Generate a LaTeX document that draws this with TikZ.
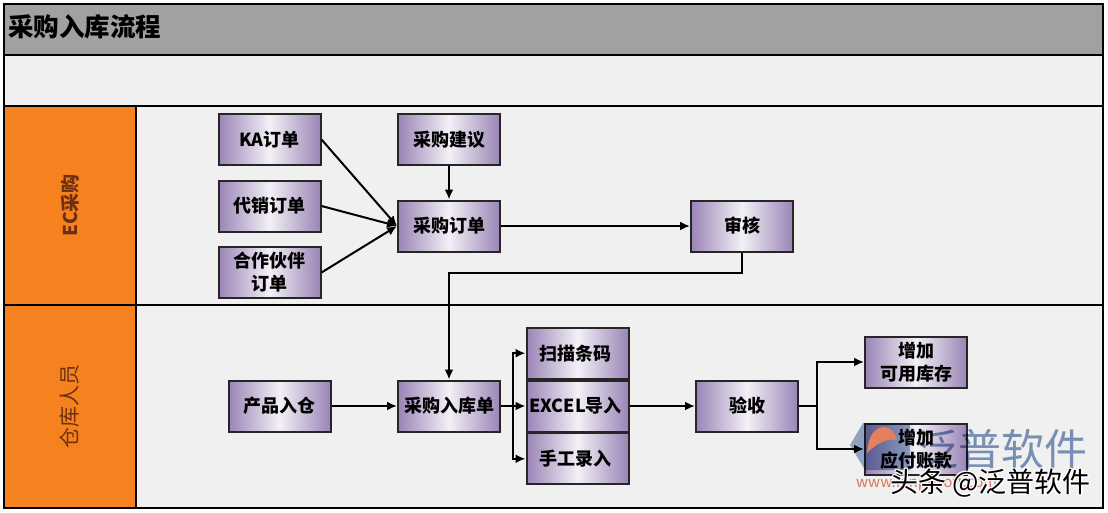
\documentclass[tikz,border=0pt]{standalone}
\usepackage{fontspec}
\setmainfont{Noto Sans CJK SC}
\usetikzlibrary{matrix,arrows.meta}
\definecolor{carril}{HTML}{F0F0F0}
\definecolor{naranja}{HTML}{F5821F}
\definecolor{letraNaranja}{HTML}{6E3010}
\definecolor{lila}{HTML}{9A84B6}
\definecolor{marcaAzul}{HTML}{7F98BE}
\definecolor{marcaRoja}{HTML}{E5805F}
\tikzset{
    banda/.style={draw=black,line width=2pt,anchor=north west,inner sep=0pt},
    cabecera/.style={banda,fill=naranja,line width=1.8pt,minimum width=132pt},
    cuerpo/.style={banda,fill=carril,line width=1.8pt,minimum width=967pt},
    caja/.style={draw=black!85,line width=2pt,left color=lila,right color=lila,middle color=white!88!lila,
        minimum width=102pt,minimum height=51pt,inner sep=0pt,align=center,
        font=\fontsize{18}{23}\selectfont\bfseries},
    flecha/.style={->,line width=2pt},
}
\begin{document}
\begin{tikzpicture}[x=1pt,y=-1pt,>={Latex[length=10pt,width=9pt]}]
            \useasboundingbox (0,0) rectangle (1108,512);
            \fill[white] (0,0) rectangle (1108,512);
            \node[banda,fill=black!37,minimum width=1099pt,minimum height=51pt] (titulo) at (3,3) {};
            \node[banda,fill=carril,minimum width=1099pt,minimum height=51pt] (vacio) at (3,54) {};
            \node[cabecera,minimum height=199pt] (cabEC) at (3,105) {};
            \node[cuerpo,minimum height=199pt] (carrilEC) at (135,105) {};
            \node[cabecera,minimum height=203pt] (cabAlm) at (3,304) {};
            \node[cuerpo,minimum height=203pt] (carrilAlm) at (135,304) {};
            \node[anchor=west,inner sep=0pt,font=\fontsize{25.5}{30}\selectfont\bfseries] (tituloTxt) at (8,27) {采购入库流程};
            \node[rotate=90,text=letraNaranja,font=\fontsize{19}{22}\selectfont\bfseries] (txtEC) at (cabEC.center) {EC采购};
            \node[rotate=90,text=letraNaranja,font=\fontsize{21}{24}\selectfont] (txtAlm) at (cabAlm.center) {仓库人员};

            \node[caja] (ka) at (269.5,139.5) {KA订单};
            \node[caja] (daixiao) at (269.5,206) {代销订单};
            \node[caja] (hezuo) at (269.5,272.5) {合作伙伴\\订单};
            \node[caja] (jianyi) at (449,139.5) {采购建议};
            \node[caja] (dingdan) at (449,226) {采购订单};
            \node[caja] (shenhe) at (742,226) {审核};
            \node[caja] (ruCang) at (279.5,406) {产品入仓};
            \node[caja] (ruku) at (449,406) {采购入库单};
            \matrix[
                matrix of nodes,
                row sep=-0.2pt,
                inner sep=0pt,
                nodes={caja}
            ] (entrada) at (577.5,406)
            {
            扫描条码 \\
            EXCEL导入 \\
            手工录入 \\
            };
            \node[caja] (yanshou) at (747,406) {验收};
            \node[caja] (kucun) at (916,362) {增加\\可用库存};
            \node[caja] (zhangkuan) at (916,449) {增加\\应付账款};

            \foreach \Origen in {ka,daixiao,hezuo}
            \draw[flecha] (\Origen.east) -- (dingdan.west);
            \draw[flecha] (jianyi) -- (dingdan);
            \draw[flecha] (dingdan) -- (shenhe);
            \draw[flecha] (shenhe.south) -- ++(0,20) -| (ruku.north);
            \draw[flecha] (ruCang) -- (ruku);
            \foreach \Fila in {1,...,3}
            \draw[flecha] (ruku.east) -- ++(12,0) |- (entrada-\Fila-1.west);
            \draw[flecha] (entrada-2-1) -- (yanshou);
            \foreach \Destino in {kucun,zhangkuan}
            \draw[flecha] (yanshou.east) -- ++(18,0) |- (\Destino.west);

            \begin{scope}[blend mode=multiply]
                \fill[marcaAzul!80] (850,445) -- (863,423) -- (910,423) -- (910,470) -- (865,470) -- cycle;
            \end{scope}
            \fill[marcaRoja] (867,453) .. controls (868,436) and (875,427) .. (884,427) .. controls (890,427) and (894,432) .. (897,440) .. controls (888,438) and (878,442) .. cycle;
            \begin{scope}[blend mode=multiply]
                \node[anchor=west,inner sep=0pt,text=marcaAzul,font=\fontsize{43}{50}\selectfont] (marca) at (915,449) {泛普软件};
                \node[anchor=west,inner sep=0pt,text=marcaRoja,font=\fontsize{15}{18}\selectfont] (web) at (856,483) {www.fanpusoft.com};
            \end{scope}
            \foreach \Dx/\Dy in {-1.2/0,1.2/0,0/-1.2,0/1.2,-1/-1,1/-1,-1/1,1/1}
            \node[anchor=west,inner sep=0pt,text=white,font=\fontsize{28}{32}\selectfont] at (890+\Dx,483+\Dy) {头条 @泛普软件};
            \node[anchor=west,inner sep=0pt,text=black,font=\fontsize{28}{32}\selectfont] (toutiao) at (890,483) {头条 @泛普软件};
        \end{tikzpicture}
\end{document}
